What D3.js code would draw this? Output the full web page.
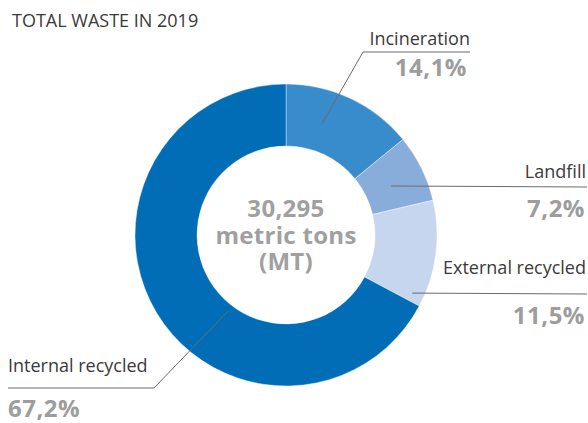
<!DOCTYPE html>
<html>
<head>
<meta charset="utf-8">
<script src="https://cdn.jsdelivr.net/npm/d3@7"></script>
<style>
  body { margin: 0; background: #fff; }
  svg { display: block; font-family: "Open Sans", sans-serif; }
</style>
</head>
<body>
<div id="chart-area"></div>
<script>
// data
let categories = ["Incineration", "Landfill", "External recycled", "Internal recycled"];
let shares = [14.1, 7.2, 11.5, 67.2];
let shareLabels = ["14,1%", "7,2%", "11,5%", "67,2%"];
let colorList = ["#398ccb", "#88addb", "#c6d6ef", "#026db7"];
let titleText = "TOTAL WASTE IN 2019";
let centerLines = ["30,295", "metric tons", "(MT)"];

let width = 588, height = 423;
let cx = 286, cy = 235;
let outerR = 151, innerR = 89;

let svg = d3.select("#chart-area").append("svg")
  .attr("width", width)
  .attr("height", height);

svg.append("text")
  .attr("x", 12)
  .attr("y", 27)
  .attr("font-size", 18)
  .attr("fill", "#3a3a3a")
  .text(titleText);

let data = categories.map((c, i) => ({name: c, value: shares[i], label: shareLabels[i]}));

let pie = d3.pie().sort(null).value(d => d.value);
let arc = d3.arc().innerRadius(innerR).outerRadius(outerR);
let colors = d3.scaleOrdinal().domain(categories).range(colorList);

let g = svg.append("g").attr("transform", "translate(" + cx + "," + cy + ")");
let arcs = pie(data);

g.selectAll("path")
  .data(arcs)
  .enter()
  .append("path")
  .attr("d", arc)
  .attr("fill", d => colors(d.data.name))
  .attr("stroke", "#fff")
  .attr("stroke-width", 0.4);

// centre text, one block with a tspan per line
let center = svg.append("text")
  .attr("text-anchor", "middle")
  .attr("font-size", 24)
  .attr("font-weight", "bold")
  .attr("letter-spacing", 0.3)
  .attr("fill", "#a0a0a0");
center.selectAll("tspan")
  .data(centerLines)
  .enter()
  .append("tspan")
  .attr("x", cx)
  .attr("y", (d, i) => 217 + i * 26.5)
  .text(d => d);

// leader lines + labels (layout per slice)
// start: angle (deg, clockwise from top) and radius where the line leaves the ring
let layout = [
  {a: 18, r: 117, elbow: [363, 52], end: 470, anchor: "end", tx: 470, ly: 45, px: 467, py: 76},
  {a: 65, r: 116, elbow: null, lineY: 187, end: 587, anchor: "end", tx: 586, ly: 178, px: 585, py: 217},
  {a: 114.7, r: 139, elbow: null, lineY: 294, end: 587, anchor: "end", tx: 586, ly: 274, px: 585, py: 324},
  {a: 217.3, r: 95.5, elbow: [154, 388], end: 8, anchor: "start", tx: 8, ly: 372, px: 8, py: 417}
];

arcs.forEach((d, i) => {
  let L = layout[i];
  let rad = L.a * Math.PI / 180;
  let sx = cx + L.r * Math.sin(rad), sy = cy - L.r * Math.cos(rad);
  let pts = [[sx, sy]];
  if (L.elbow) {
    pts.push(L.elbow);
    pts.push([L.end, L.elbow[1]]);
  } else {
    pts.push([L.end, L.lineY]);
  }
  svg.append("path")
    .attr("d", d3.line()(pts))
    .attr("fill", "none")
    .attr("stroke", "#6b6b6b")
    .attr("stroke-width", 1);

  svg.append("text")
    .attr("x", L.tx)
    .attr("y", L.ly)
    .attr("text-anchor", L.anchor)
    .attr("font-size", 18)
    .attr("fill", "#3a3a3a")
    .text(d.data.name);

  svg.append("text")
    .attr("x", L.px)
    .attr("y", L.py)
    .attr("text-anchor", L.anchor)
    .attr("font-size", 24)
    .attr("font-weight", "bold")
    .attr("letter-spacing", 0.5)
    .attr("fill", "#9d9d9d")
    .text(d.data.label);
});
</script>
</body>
</html>
